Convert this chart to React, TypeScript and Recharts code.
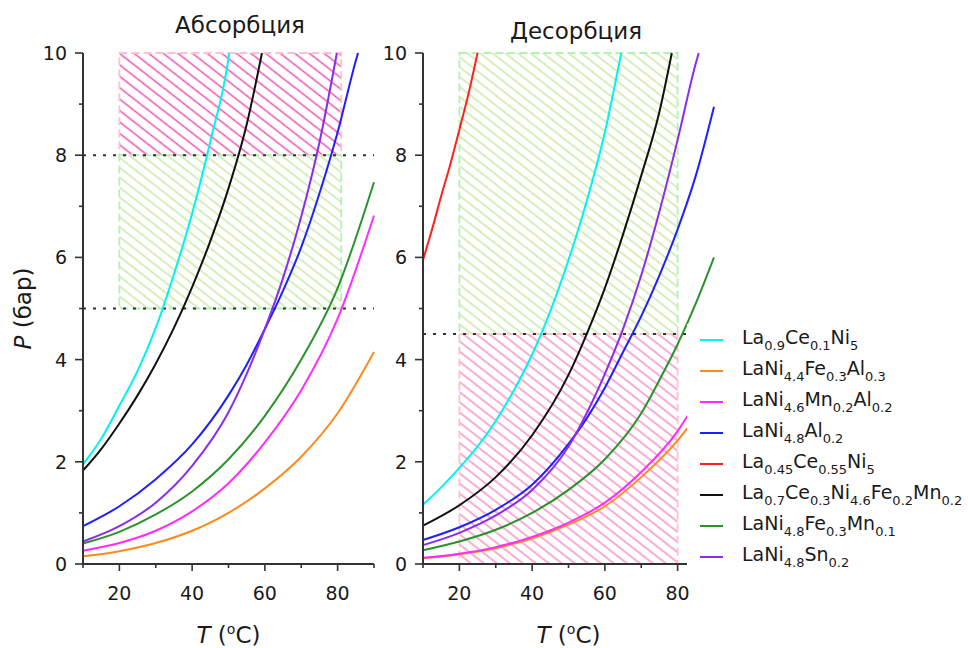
import React from "react";
import { LineChart, Line, XAxis, YAxis, ReferenceArea, ReferenceLine, Legend } from "recharts";

const FONT = "'DejaVu Sans', 'Liberation Sans', sans-serif";
const AXIS = "#333333";
const TEXT = "#1a1a1a";

// formulas, {..} = subscript
const alloyNames = [
  "La{0.9}Ce{0.1}Ni{5}",
  "LaNi{4.4}Fe{0.3}Al{0.3}",
  "LaNi{4.6}Mn{0.2}Al{0.2}",
  "LaNi{4.8}Al{0.2}",
  "La{0.45}Ce{0.55}Ni{5}",
  "La{0.7}Ce{0.3}Ni{4.6}Fe{0.2}Mn{0.2}",
  "LaNi{4.8}Fe{0.3}Mn{0.1}",
  "LaNi{4.8}Sn{0.2}",
];
const alloyColors = ["#00f2f2", "#ff8a1c", "#ff2bff", "#1f1fff", "#ff1f1f", "#111111", "#2a922a", "#8a2cf0"];

// Абсорбция: [T °C, P бар]
const absLa09Ce01 = [[10, 1.95], [15, 2.45], [20, 3.1], [25, 3.78], [30, 4.62], [35, 5.67], [40, 6.86], [45, 8.27], [50, 9.9], [50.2, 10]];
const absFeAl = [[10, 0.15], [20, 0.25], [30, 0.41], [40, 0.65], [50, 1.0], [60, 1.48], [70, 2.1], [80, 2.95], [90, 4.15]];
const absMnAl = [[10, 0.26], [20, 0.41], [30, 0.65], [40, 1.03], [50, 1.58], [60, 2.38], [70, 3.4], [80, 4.8], [90, 6.82]];
const absAl = [[10, 0.74], [20, 1.13], [30, 1.66], [40, 2.34], [50, 3.3], [55, 3.9], [60, 4.6], [65, 5.35], [70, 6.2], [75, 7.25], [80, 8.45], [85, 9.85], [85.6, 10]];
const absLa045 = null;
const absLa07 = [[10, 1.83], [15, 2.25], [20, 2.75], [25, 3.3], [30, 3.92], [35, 4.62], [40, 5.42], [45, 6.32], [50, 7.35], [55, 8.6], [59.2, 10]];
const absFeMn = [[10, 0.4], [20, 0.63], [30, 0.97], [40, 1.42], [50, 2.05], [60, 2.9], [70, 4.0], [80, 5.4], [90, 7.47]];
const absSn = [[10, 0.44], [20, 0.74], [30, 1.2], [40, 1.92], [50, 2.97], [55, 3.72], [60, 4.6], [65, 5.6], [70, 6.8], [75, 8.25], [79.8, 10]];

// Десорбция
const desLa09Ce01 = [[10, 1.16], [15, 1.5], [20, 1.88], [25, 2.3], [30, 2.8], [35, 3.4], [40, 4.1], [45, 4.95], [50, 5.95], [55, 7.1], [60, 8.45], [64.5, 10]];
const desFeAl = [[10, 0.11], [20, 0.19], [30, 0.31], [40, 0.5], [50, 0.77], [60, 1.13], [70, 1.7], [80, 2.42], [83, 2.69]];
const desMnAl = [[10, 0.12], [20, 0.2], [30, 0.33], [40, 0.53], [50, 0.81], [60, 1.2], [70, 1.8], [80, 2.6], [83, 2.93]];
const desAl = [[10, 0.47], [20, 0.72], [30, 1.06], [40, 1.55], [50, 2.35], [55, 2.85], [60, 3.45], [65, 4.15], [70, 4.85], [75, 5.65], [80, 6.55], [85, 7.6], [90, 8.95]];
const desLa045 = [[10, 5.95], [12.5, 6.55], [15, 7.2], [17.5, 7.82], [20, 8.5], [22.5, 9.2], [25, 10]];
const desLa07 = [[10, 0.75], [20, 1.15], [30, 1.7], [40, 2.52], [50, 3.7], [55, 4.5], [60, 5.4], [65, 6.45], [70, 7.6], [75, 8.85], [78.4, 10]];
const desFeMn = [[10, 0.27], [20, 0.44], [30, 0.67], [40, 1.0], [50, 1.45], [60, 2.05], [70, 2.95], [75, 3.6], [80, 4.3], [85, 5.1], [90, 6.0]];
const desSn = [[10, 0.37], [20, 0.61], [30, 0.95], [40, 1.45], [50, 2.3], [55, 2.95], [60, 3.72], [65, 4.6], [70, 5.65], [75, 6.9], [80, 8.3], [85, 9.8], [85.8, 10]];

const absSeries = [absLa09Ce01, absFeAl, absMnAl, absAl, absLa045, absLa07, absFeMn, absSn];
const desSeries = [desLa09Ce01, desFeAl, desMnAl, desAl, desLa045, desLa07, desFeMn, desSn];

const xTicks = [10, 20, 30, 40, 50, 60, 70, 80, 90];
const yTicks = [0, 1, 2, 3, 4, 5, 6, 7, 8, 9, 10];

const rows = (pts: number[][]) => pts.map(([T, P]) => ({ T, P }));

const formula = (s: string) =>
  s.split(/(\{[^}]*\})/).filter(Boolean).map((p, i) =>
    p.startsWith("{") ? (
      <span key={i} style={{ fontSize: 13, verticalAlign: -6 }}>{p.slice(1, -1)}</span>
    ) : (
      <span key={i}>{p}</span>
    )
  );

const XTick = (props: any) => {
  const { x, y, payload } = props;
  const v = payload.value;
  const major = v % 20 === 0;
  return (
    <g>
      <line x1={x} x2={x} y1={y} y2={y + (major ? 7 : 4)} stroke={AXIS} strokeWidth={1.6} />
      {major && (
        <text x={x} y={y + 36} textAnchor="middle" fontSize={19} fill={TEXT} fontFamily={FONT}>{v}</text>
      )}
    </g>
  );
};

const YTick = (props: any) => {
  const { x, y, payload } = props;
  const v = payload.value;
  const major = v % 2 === 0;
  return (
    <g>
      <line x1={x - (major ? 8 : 4)} x2={x} y1={y} y2={y} stroke={AXIS} strokeWidth={1.6} />
      {major && (
        <text x={x - 16} y={y} dy="0.37em" textAnchor="end" fontSize={19} fill={TEXT} fontFamily={FONT}>{v}</text>
      )}
    </g>
  );
};

const xTitle = (props: any) => {
  const vb = props.viewBox;
  return (
    <text x={vb.x + vb.width / 2} y={vb.y + 79} textAnchor="middle" fontSize={23} fill={TEXT} fontFamily={FONT}>
      <tspan fontStyle="italic">T</tspan> (<tspan fontSize={14} dy={-9}>o</tspan><tspan dy={9}>C)</tspan>
    </text>
  );
};

const yTitle = (props: any) => {
  const vb = props.viewBox;
  const cx = 31;
  const cy = vb.y + vb.height / 2;
  return (
    <text x={cx} y={cy} transform={`rotate(-90, ${cx}, ${cy})`} textAnchor="middle" fontSize={23} fill={TEXT} fontFamily={FONT}>
      <tspan fontStyle="italic">P</tspan> (бар)
    </text>
  );
};

const renderLegend = (props: any) => (
  <div style={{ background: "#fff", width: 281, height: 256, fontFamily: FONT, color: TEXT }}>
    {(props.payload || []).map((e: any) => (
      <div key={e.value} style={{ height: 31, display: "flex", alignItems: "center" }}>
        <span style={{ display: "block", flexShrink: 0, width: 23, height: 2, background: e.color, marginLeft: 13, marginRight: 19 }} />
        <span style={{ fontSize: 19, whiteSpace: "nowrap" }}>{formula(e.value)}</span>
      </div>
    ))}
  </div>
);

const dotted = { stroke: AXIS, strokeWidth: 2, strokeDasharray: "3 7" };
const pinkEdge = { stroke: "#ffc2cc", strokeDasharray: "8 4", strokeWidth: 1.8 };
const greenEdge = { stroke: "#b2f2b2", strokeDasharray: "8 4", strokeWidth: 1.8 };

export default function App() {
  return (
    <div style={{ position: "absolute", left: 0, top: 0, width: 968, height: 648, background: "#fff", fontFamily: FONT }}>
      <svg width={968} height={648} style={{ position: "absolute", left: 0, top: 0 }}>
        <defs>
          <pattern id="hatchPinkA" patternUnits="userSpaceOnUse" width="9" height="9" patternTransform="rotate(-52)">
            <line x1="4.5" y1="0" x2="4.5" y2="9" stroke="#f04fae" strokeWidth="1.5" />
          </pattern>
          <pattern id="hatchPinkD" patternUnits="userSpaceOnUse" width="8" height="8" patternTransform="rotate(-52)">
            <line x1="4" y1="0" x2="4" y2="8" stroke="#f888c6" strokeWidth="1.4" />
          </pattern>
          <pattern id="hatchGreen" patternUnits="userSpaceOnUse" width="7.8" height="7.8" patternTransform="rotate(-52)">
            <line x1="4" y1="0" x2="4" y2="7.8" stroke="#c5e8a0" strokeWidth="1.4" />
          </pattern>
        </defs>
        <text x={240} y={33} textAnchor="middle" fontSize={23} fill={TEXT} fontFamily={FONT}>Абсорбция</text>
        <text x={576} y={39} textAnchor="middle" fontSize={23} fill={TEXT} fontFamily={FONT}>Десорбция</text>
      </svg>

      {/* Абсорбция */}
      <div style={{ position: "absolute", left: 0, top: 0 }}>
        <LineChart width={380} height={648} margin={{ top: 53, right: 6, bottom: 0, left: 0 }}>
          <XAxis dataKey="T" type="number" domain={[10, 90]} ticks={xTicks} interval={0} height={84}
            axisLine={{ stroke: AXIS, strokeWidth: 2 }} tickLine={false} tickSize={0} tickMargin={0}
            tick={XTick} label={xTitle} />
          <YAxis type="number" domain={[0, 10]} ticks={yTicks} interval={0} width={83}
            axisLine={{ stroke: AXIS, strokeWidth: 2 }} tickLine={false} tickSize={0} tickMargin={0}
            tick={YTick} label={yTitle} />
          <ReferenceArea x1={20} x2={81} y1={8} y2={10} fill="url(#hatchPinkA)" fillOpacity={1} {...pinkEdge} ifOverflow="visible" />
          <ReferenceArea x1={20} x2={81} y1={5} y2={8} fill="url(#hatchGreen)" fillOpacity={1} {...greenEdge} ifOverflow="visible" />
          <ReferenceLine y={8} {...dotted} />
          <ReferenceLine y={5} {...dotted} />
          {alloyNames.map((name, i) =>
            absSeries[i] ? (
              <Line key={name} name={name} data={rows(absSeries[i] as number[][])} dataKey="P" type="monotone"
                stroke={alloyColors[i]} strokeWidth={2} dot={false} activeDot={false} isAnimationActive={false} />
            ) : null
          )}
        </LineChart>
      </div>

      {/* Десорбция */}
      <div style={{ position: "absolute", left: 380, top: 0 }}>
        <LineChart width={588} height={648} margin={{ top: 53, right: 254, bottom: 0, left: 0 }}>
          <XAxis dataKey="T" type="number" domain={[10, 90]} ticks={xTicks} interval={0} height={84}
            axisLine={{ stroke: AXIS, strokeWidth: 2 }} tickLine={false} tickSize={0} tickMargin={0}
            tick={XTick} label={xTitle} />
          <YAxis type="number" domain={[0, 10]} ticks={yTicks} interval={0} width={43}
            axisLine={{ stroke: AXIS, strokeWidth: 2 }} tickLine={false} tickSize={0} tickMargin={0}
            tick={YTick} />
          <ReferenceArea x1={20} x2={80} y1={4.5} y2={10} fill="url(#hatchGreen)" fillOpacity={1} {...greenEdge} ifOverflow="visible" />
          <ReferenceArea x1={20} x2={80} y1={0} y2={4.5} fill="url(#hatchPinkD)" fillOpacity={1} {...pinkEdge} ifOverflow="visible" />
          <ReferenceLine y={4.5} {...dotted} />
          {alloyNames.map((name, i) => (
            <Line key={name} name={name} data={rows(desSeries[i] as number[][])} dataKey="P" type="monotone"
              stroke={alloyColors[i]} strokeWidth={2} dot={false} activeDot={false} isAnimationActive={false} />
          ))}
          <Legend content={renderLegend} layout="vertical" align="center" verticalAlign="middle"
            itemSorter={(item: any) => alloyNames.indexOf(item.value)}
            wrapperStyle={{ left: 307, top: 324, width: 281, height: 256 }} />
        </LineChart>
      </div>
    </div>
  );
}
